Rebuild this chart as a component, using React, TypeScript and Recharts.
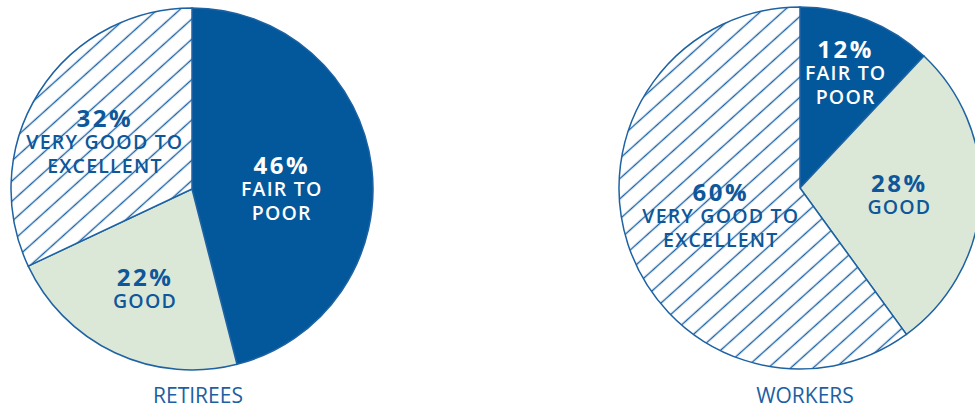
import React from 'react';
import { PieChart, Pie, Cell } from 'recharts';

const categories = ['Fair to poor', 'Good', 'Very good to excellent'];
const retireesValues = [46, 22, 32];
const workersValues = [12, 28, 60];
const labelLines = [['FAIR TO', 'POOR'], ['GOOD'], ['VERY GOOD TO', 'EXCELLENT']];
const groupTitles = ['RETIREES', 'WORKERS'];

const BLUE = '#02589b';
const EDGE = '#1d62a3';
const GREEN = '#dbe8d8';
const TEXT = '#0d579a';
const FONT = '"Open Sans", "Noto Sans", sans-serif';

const fills = [BLUE, GREEN, 'url(#hatch)'];
const textColors = ['#ffffff', TEXT, TEXT];

// label placement per slice: radius (fraction of outer radius) and a small vertical nudge
const retireesLabelPos = [{ r: 0.5, dy: 11 }, { r: 0.61, dy: 0 }, { r: 0.57, dy: 8 }];
const workersLabelPos = [{ r: 0.685, dy: 0 }, { r: 0.55, dy: 0 }, { r: 0.46, dy: 2 }];

const RAD = Math.PI / 180;

const makeLabel = (pos: { r: number; dy: number }[]) => (props: any) => {
  const { cx, cy, midAngle, outerRadius, index, value } = props;
  const p = pos[index];
  const x = cx + outerRadius * p.r * Math.cos(-midAngle * RAD);
  const y = cy + outerRadius * p.r * Math.sin(-midAngle * RAD) + p.dy;
  const lines = labelLines[index];
  const n = lines.length + 1;
  const lh = 24;
  const top = y - ((n - 1) / 2) * lh;
  return (
    <g fontFamily={FONT} fill={textColors[index]} textAnchor="middle">
      <text x={x} y={top} dominantBaseline="central" fontSize={24} fontWeight={700} letterSpacing={2.5}>
        {value}%
      </text>
      {lines.map((l, i) => (
        <text key={l} x={x} y={top + (i + 1) * lh} dominantBaseline="central" fontSize={19.5} fontWeight={600} letterSpacing={1.2}>
          {l}
        </text>
      ))}
    </g>
  );
};

const retireesData = categories.map((c, i) => ({ name: c, value: retireesValues[i] }));
const workersData = categories.map((c, i) => ({ name: c, value: workersValues[i] }));

export default function App() {
  return (
    <div style={{ position: 'absolute', left: 0, top: 0, width: 975, height: 408, background: '#fff', overflow: 'hidden' }}>
      <svg width={0} height={0} style={{ position: 'absolute' }}>
        <defs>
          <pattern id="hatch" patternUnits="userSpaceOnUse" width={15} height={15} patternTransform="rotate(-42)">
            <rect x={0} y={0} width={15} height={15} fill="#ffffff" />
            <line x1={-1} y1={7.5} x2={16} y2={7.5} stroke={EDGE} strokeWidth={1.4} />
          </pattern>
        </defs>
      </svg>
      <PieChart width={975} height={408} margin={{ top: 0, right: 0, bottom: 0, left: 0 }}>
        <Pie
          data={retireesData}
          dataKey="value"
          cx={192}
          cy={189}
          outerRadius={181}
          startAngle={90}
          endAngle={-270}
          stroke={EDGE}
          strokeWidth={1.5}
          labelLine={false}
          label={makeLabel(retireesLabelPos)}
          isAnimationActive={false}
        >
          {retireesData.map((d, i) => (
            <Cell key={d.name} fill={fills[i]} />
          ))}
        </Pie>
        <Pie
          data={workersData}
          dataKey="value"
          cx={800}
          cy={188}
          outerRadius={181}
          startAngle={90}
          endAngle={-270}
          stroke={EDGE}
          strokeWidth={1.5}
          labelLine={false}
          label={makeLabel(workersLabelPos)}
          isAnimationActive={false}
        >
          {workersData.map((d, i) => (
            <Cell key={d.name} fill={fills[i]} />
          ))}
        </Pie>
      </PieChart>
      {groupTitles.map((t, i) => (
        <div
          key={t}
          style={{
            position: 'absolute',
            left: i === 0 ? 198 - 100 : 805 - 100,
            width: 200,
            top: 380,
            textAlign: 'center',
            fontFamily: FONT,
            fontSize: 21,
            color: '#1c5fa3',
            lineHeight: '30px',
          }}
        >
          {t}
        </div>
      ))}
    </div>
  );
}
